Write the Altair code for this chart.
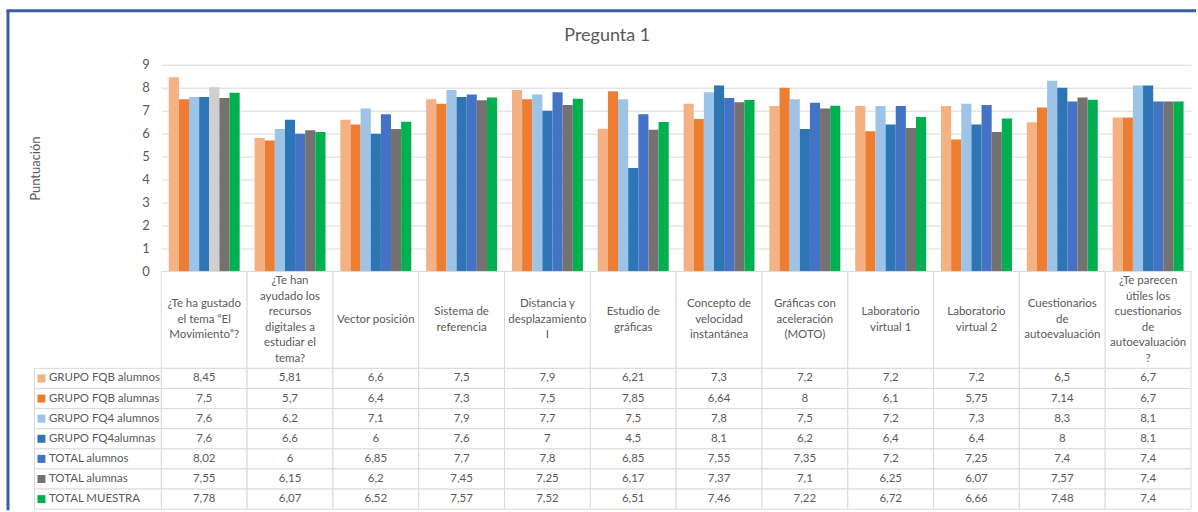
import altair as alt
import pandas as pd

title_text = "Pregunta 1"
y_title = "Puntuación"

categories = [
    "¿Te ha gustado\nel tema “El\nMovimiento”?",
    "¿Te han\nayudado los\nrecursos\ndigitales a\nestudiar el\ntema?",
    "Vector posición",
    "Sistema de\nreferencia",
    "Distancia y\ndesplazamiento\nI",
    "Estudio de\ngráficas",
    "Concepto de\nvelocidad\ninstantánea",
    "Gráficas con\naceleración\n(MOTO)",
    "Laboratorio\nvirtual 1",
    "Laboratorio\nvirtual 2",
    "Cuestionarios\nde\nautoevaluación",
    "¿Te parecen\nútiles los\ncuestionarios\nde\nautoevaluación\n?",
]
series = ["GRUPO FQB alumnos", "GRUPO FQB alumnas", "GRUPO FQ4 alumnos",
          "GRUPO FQ4alumnas", "TOTAL alumnos", "TOTAL alumnas", "TOTAL MUESTRA"]
colors = ["#F4B183", "#ED7D31", "#9DC3E6", "#2E75B6", "#4472C4", "#767171", "#00B050"]

fqb_alumnos = [8.45, 5.81, 6.6, 7.5, 7.9, 6.21, 7.3, 7.2, 7.2, 7.2, 6.5, 6.7]
fqb_alumnas = [7.5, 5.7, 6.4, 7.3, 7.5, 7.85, 6.64, 8, 6.1, 5.75, 7.14, 6.7]
fq4_alumnos = [7.6, 6.2, 7.1, 7.9, 7.7, 7.5, 7.8, 7.5, 7.2, 7.3, 8.3, 8.1]
fq4_alumnas = [7.6, 6.6, 6, 7.6, 7, 4.5, 8.1, 6.2, 6.4, 6.4, 8, 8.1]
total_alumnos = [8.02, 6, 6.85, 7.7, 7.8, 6.85, 7.55, 7.35, 7.2, 7.25, 7.4, 7.4]
total_alumnas = [7.55, 6.15, 6.2, 7.45, 7.25, 6.17, 7.37, 7.1, 6.25, 6.07, 7.57, 7.4]
total_muestra = [7.78, 6.07, 6.52, 7.57, 7.52, 6.51, 7.46, 7.22, 6.72, 6.66, 7.48, 7.4]

all_values = [fqb_alumnos, fqb_alumnas, fq4_alumnos, fq4_alumnas,
              total_alumnos, total_alumnas, total_muestra]

rows = []
for s, vals in zip(series, all_values):
    for i, (c, v) in enumerate(zip(categories, vals)):
        rows.append({"category": c, "series": s, "value": v, "idx": i,
                     "label": f"{v:g}".replace(".", ",")})
df = pd.DataFrame(rows)
sdf = pd.DataFrame({"series": series})
cdf = pd.DataFrame({"category": categories})
one = pd.DataFrame({"t": [title_text]})

FONT = "Lato"
TXT = "#595959"
GRID = "#D9D9D9"
FS = 11.5
W = 1031
H_BARS = 207
H_HDR = 97
H_TAB = 141
LH = 15.5

xs = alt.Scale(domain=categories, paddingInner=0, paddingOuter=0)
color_scale = alt.Scale(domain=series, range=colors)
X = alt.X("category:N", scale=xs, axis=None)

bars = alt.Chart(df).mark_bar().encode(
    x=X,
    xOffset=alt.XOffset("series:N", scale=alt.Scale(domain=series, paddingInner=0, paddingOuter=0.735)),
    y=alt.Y("value:Q", scale=alt.Scale(domain=[0, 9], nice=False),
            axis=alt.Axis(values=list(range(10)), title=y_title, grid=True, gridColor=GRID,
                          domain=False, ticks=False, labelPadding=12, titlePadding=99)),
    color=alt.condition("datum.series == 'TOTAL alumnos' && datum.idx == 0",
                        alt.value("#D0CECE"),
                        alt.Color("series:N", scale=color_scale, legend=None)),
)

title_mark = alt.Chart(one).mark_text(fontSize=18, font=FONT, color=TXT, baseline="middle").encode(
    x=alt.value(446.5), y=alt.value(-28.5), text="t:N")

border_v = alt.Chart(one).mark_rule(color="#3A5E9E", strokeWidth=3).encode(
    x=alt.value(-153.5), y=alt.value(-54), y2=alt.value(446))
border_h = alt.Chart(one).mark_rule(color="#3A5E9E", strokeWidth=3).encode(
    x=alt.value(-155), x2=alt.value(1036), y=alt.value(-54))

top = alt.layer(bars, title_mark, border_v, border_h).properties(width=W, height=H_BARS)

hdr_rect = alt.Chart(cdf).mark_rect(fill="white", stroke=GRID, strokeWidth=1).encode(
    x=X, y=alt.value(0), y2=alt.value(H_HDR))
hdr_text = alt.Chart(cdf).transform_calculate(
    ypos=f"{H_HDR / 2} - (length(split(datum.category, '\\n')) - 1) * {LH / 2}"
).mark_text(lineBreak="\n", lineHeight=LH, fontSize=FS, font=FONT,
            color=TXT, baseline="middle").encode(
    x=X,
    y=alt.Y("ypos:Q", scale=alt.Scale(domain=[0, H_HDR], reverse=True, nice=False, zero=False), axis=None),
    text="category:N")
header = alt.layer(hdr_rect, hdr_text).properties(width=W, height=H_HDR)

ys = alt.Scale(domain=series, paddingInner=0, paddingOuter=0)
Y = alt.Y("series:N", scale=ys, axis=None)
cells = alt.Chart(df).mark_rect(fill="white", stroke=GRID, strokeWidth=1).encode(x=X, y=Y)
vals = alt.Chart(df).mark_text(fontSize=FS, font=FONT, color=TXT, baseline="middle").encode(
    x=X, y=Y, text="label:N")
leg_cells = alt.Chart(sdf).mark_rect(fill="white", stroke=GRID, strokeWidth=1).encode(
    x=alt.value(-127), x2=alt.value(0), y=Y)
leg_sq = alt.Chart(sdf).mark_square(size=64, opacity=1).encode(
    x=alt.value(-120), y=Y, color=alt.Color("series:N", scale=color_scale, legend=None))
leg_txt = alt.Chart(sdf).mark_text(align="left", baseline="middle", fontSize=FS, font=FONT,
                                   color=TXT).encode(x=alt.value(-112.5), y=Y, text="series:N")
table = alt.layer(cells, vals, leg_cells, leg_sq, leg_txt).properties(width=W, height=H_TAB)

chart = alt.vconcat(top, header, table, spacing=0, bounds="flush").properties(
    padding={"left": 4.5, "top": 8.5, "right": 0, "bottom": 0},
    background="white",
).configure_view(strokeWidth=0).configure_axis(
    labelFont=FONT, titleFont=FONT, labelColor=TXT, titleColor=TXT,
    labelFontSize=13, titleFontSize=13, titleFontWeight="normal",
)

chart.save("out.html", embed_options={"renderer": "svg", "actions": False})
